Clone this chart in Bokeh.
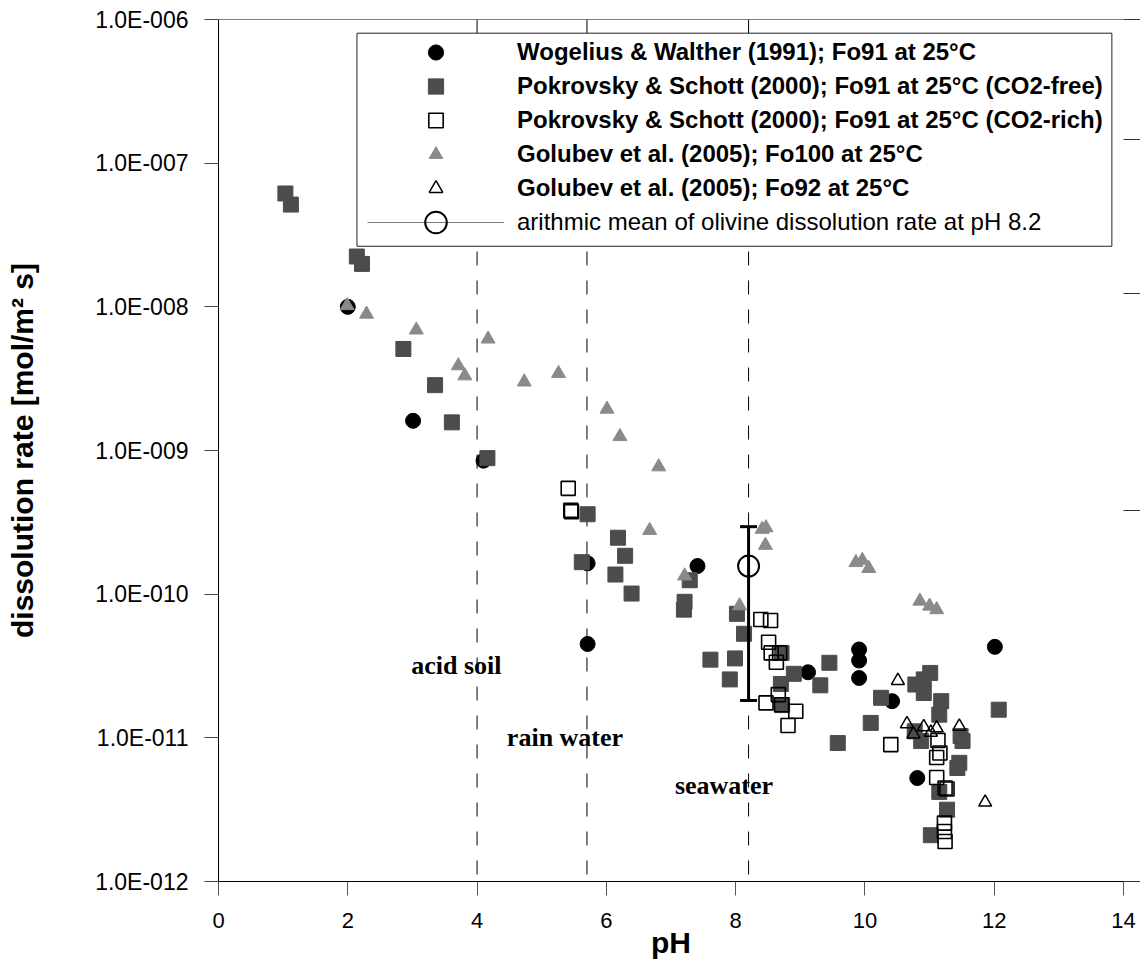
from bokeh.plotting import figure
from bokeh.models import (FixedTicker, LinearAxis, Range1d, Legend, LegendItem, Label,
                          BoxAnnotation, Span, CustomJSTickFormatter)
from bokeh.embed import file_html
from bokeh.resources import INLINE

# ---------------- data ----------------
x_ticks = [0, 2, 4, 6, 8, 10, 12, 14]
y_tick_values = [1e-12, 1e-11, 1e-10, 1e-9, 1e-8, 1e-7, 1e-6]
y_tick_labels = ["1.0E-012", "1.0E-011", "1.0E-010", "1.0E-009", "1.0E-008", "1.0E-007", "1.0E-006"]

ww_ph = [2.00, 3.01, 4.10, 5.71, 5.71, 7.41, 9.12, 9.91, 9.91, 9.91, 12.01, 10.42, 10.81]
ww_rate = [1.0e-8, 1.61e-9, 8.5e-10, 1.64e-10, 4.5e-11, 1.57e-10, 2.86e-11, 4.12e-11,
           3.45e-11, 2.61e-11, 4.3e-11, 1.8e-11, 5.25e-12]

ps_free_ph = [1.035, 1.12, 2.14, 2.22, 2.86, 3.35, 3.61, 4.16, 5.71, 5.62, 6.18, 6.29, 6.14,
              6.39, 7.29, 7.21, 7.20, 8.02, 8.13, 7.61, 7.99, 7.91, 8.71, 8.90, 8.70, 8.72,
              9.45, 9.31, 9.58, 10.25, 10.09, 11.01, 10.91, 10.78, 10.91, 11.18, 11.15, 11.48,
              11.51, 10.87, 10.77, 11.46, 11.43, 11.15, 11.27, 11.02, 12.07]
ps_free_rate = [6.15e-8, 5.15e-8, 2.24e-8, 1.99e-8, 5.09e-9, 2.85e-9, 1.57e-9, 8.85e-10,
                3.6e-10, 1.67e-10, 2.47e-10, 1.85e-10, 1.37e-10, 1.01e-10, 1.25e-10, 8.85e-11,
                7.8e-11, 7.3e-11, 5.3e-11, 3.5e-11, 3.57e-11, 2.55e-11, 3.9e-11, 2.79e-11,
                2.37e-11, 1.69e-11, 3.33e-11, 2.32e-11, 9.2e-12, 1.9e-11, 1.27e-11, 2.83e-11,
                2.55e-11, 2.35e-11, 2.05e-11, 1.8e-11, 1.45e-11, 1.03e-11, 9.5e-12, 9.5e-12,
                1.11e-11, 6.7e-12, 6.17e-12, 4.2e-12, 3.16e-12, 2.1e-12, 1.57e-11]

ps_rich_ph = [5.41, 5.45, 5.46, 8.39, 8.54, 8.51, 8.55, 8.68, 8.63, 8.66, 8.47, 8.71, 8.93,
              8.81, 10.40, 11.13, 11.16, 11.11, 11.11, 11.24, 11.27, 11.23, 11.23, 11.24]
ps_rich_rate = [5.45e-10, 3.84e-10, 3.75e-10, 6.67e-11, 6.56e-11, 4.63e-11, 3.9e-11, 3.9e-11,
                3.36e-11, 2.0e-11, 1.75e-11, 1.7e-11, 1.53e-11, 1.22e-11, 8.97e-12, 9.6e-12,
                7.84e-12, 7.3e-12, 5.3e-12, 4.47e-12, 4.4e-12, 2.55e-12, 2.23e-12, 1.9e-12]

gb100_ph = [1.99, 2.29, 3.06, 3.71, 3.81, 4.17, 4.73, 5.26, 6.01, 6.21, 6.81, 6.67, 7.21,
            8.06, 8.41, 8.47, 8.46, 9.86, 9.96, 10.06, 10.85, 11.00, 11.11]
gb100_rate = [1.02e-8, 8.9e-9, 6.9e-9, 3.89e-9, 3.31e-9, 5.97e-9, 3.0e-9, 3.44e-9, 1.94e-9,
              1.25e-9, 7.7e-10, 2.78e-10, 1.34e-10, 8.3e-11, 2.83e-10, 2.9e-10, 2.19e-10,
              1.66e-10, 1.72e-10, 1.51e-10, 8.95e-11, 8.26e-11, 7.8e-11]

gb92_ph = [10.51, 10.65, 10.91, 11.11, 11.02, 11.46, 10.75, 11.86]
gb92_rate = [2.5e-11, 1.25e-11, 1.19e-11, 1.17e-11, 1.09e-11, 1.2e-11, 1.06e-11, 3.56e-12]

mean_ph = [8.2]
mean_rate = [1.57e-10]
mean_low = [1.82e-11]
mean_high = [2.95e-10]

env_ph = [4.0, 5.7, 8.2]
env_names = ["acid soil", "rain water", "seawater"]
env_label_ph = [3.68, 5.36, 7.82]
env_label_rate = [3.19e-11, 1.0e-11, 4.66e-12]

legend_labels = [
    "Wogelius & Walther (1991); Fo91 at 25°C",
    "Pokrovsky & Schott (2000); Fo91 at 25°C (CO2-free)",
    "Pokrovsky & Schott (2000); Fo91 at 25°C (CO2-rich)",
    "Golubev et al. (2005); Fo100 at 25°C",
    "Golubev et al. (2005); Fo92 at 25°C",
    "arithmic mean of olivine dissolution rate at pH 8.2",
]

x_title = "pH"
y_title = "dissolution rate [mol/m² s]"

x_min, x_max = 0, 14
y_min, y_max = 1e-12, 1e-6

FONT = "Liberation Sans"
W, H = 1140, 966
BL, BR, BT, BB = 218, 16, 19, 85

# ---------------- figure ----------------
p = figure(width=W, height=H, x_range=Range1d(x_min, x_max),
           y_range=Range1d(y_min, y_max), y_axis_type="log",
           output_backend="svg", toolbar_location=None,
           min_border_left=BL, min_border_right=BR, min_border_top=BT, min_border_bottom=BB)
p.outline_line_color = None
p.xgrid.visible = False
p.ygrid.visible = False
p.background_fill_color = "white"
p.border_fill_color = "white"

# x axis
xa = p.xaxis[0]
xa.ticker = FixedTicker(ticks=x_ticks)
xa.major_tick_out = 14
xa.major_tick_in = 0
xa.minor_tick_out = 0
xa.minor_tick_in = 0
xa.major_tick_line_color = "#555555"
xa.axis_line_color = "black"
xa.major_label_text_font = FONT
xa.major_label_text_font_size = "22px"
xa.major_label_text_color = "black"
xa.major_label_standoff = 17
xa.axis_label = x_title
xa.axis_label_text_font = FONT
xa.axis_label_text_font_size = "30px"
xa.axis_label_text_font_style = "bold"
xa.axis_label_text_color = "black"
xa.axis_label_standoff = -5

# y axis
ya = p.yaxis[0]
ya.ticker = FixedTicker(ticks=y_tick_values)
ya.major_label_overrides = dict(zip(y_tick_values, y_tick_labels))
ya.major_tick_out = 14
ya.major_tick_in = 0
ya.minor_tick_out = 0
ya.minor_tick_in = 0
ya.major_tick_line_color = "#444444"
ya.axis_line_color = "black"
ya.major_label_text_font = FONT
ya.major_label_text_font_size = "23px"
ya.major_label_text_color = "black"
ya.major_label_standoff = 16
ya.axis_label = y_title
ya.axis_label_text_font = FONT
ya.axis_label_text_font_size = "30px"
ya.axis_label_text_font_style = "bold"
ya.axis_label_text_color = "black"
ya.axis_label_standoff = 53

# right axis (unlabelled)
p.extra_y_ranges = {"right": Range1d(0, 5)}
ra = LinearAxis(y_range_name="right", ticker=FixedTicker(ticks=[0, 1, 2, 3, 4, 5]),
                formatter=CustomJSTickFormatter(code="return ''"),
                major_tick_out=17, major_tick_in=0, minor_tick_out=0, minor_tick_in=0,
                major_label_standoff=0, axis_line_color="#808080",
                major_tick_line_color="#333333")
p.add_layout(ra, "right")

# top frame line
p.add_layout(Span(location=y_max, dimension="width", line_color="black", line_width=1))

# environment dashed lines
p.segment(x0=env_ph, y0=[y_max] * len(env_ph), x1=env_ph, y1=[y_min] * len(env_ph),
          line_color="black", line_width=1, line_dash="14 15")

for name, lx, ly in zip(env_names, env_label_ph, env_label_rate):
    p.add_layout(Label(x=lx, y=ly, text=name, text_font="Liberation Serif",
                       text_font_style="bold", text_font_size="26px", text_color="black",
                       text_align="center", text_baseline="alphabetic"))

# data series
r_ww = p.scatter(ww_ph, ww_rate, marker="circle", size=15, fill_color="black", line_color="black")
r_free = p.scatter(ps_free_ph, ps_free_rate, marker="square", size=15,
                   fill_color="#4c4c4c", line_color="#4c4c4c")
r_rich = p.scatter(ps_rich_ph, ps_rich_rate, marker="square", size=14,
                   fill_color=None, line_color="black", line_width=1.6)
r_100 = p.scatter(gb100_ph, gb100_rate, marker="triangle", size=14,
                  fill_color="#8a8a8a", line_color="#8a8a8a")
r_92 = p.scatter(gb92_ph, gb92_rate, marker="triangle", size=13,
                 fill_color=None, line_color="black", line_width=1.5)

# mean with error bar
p.segment(x0=mean_ph, y0=mean_low, x1=mean_ph, y1=mean_high, line_color="black", line_width=3)
p.scatter(mean_ph * 2, mean_low + mean_high, marker="dash", size=17,
          line_color="black", line_width=3)
r_mean = p.scatter(mean_ph, mean_rate, marker="circle", size=21, fill_color=None,
                   line_color="black", line_width=2)
# single-point line: invisible in the plot, gives the legend its horizontal line
r_legline = p.line(mean_ph, mean_rate, line_color="#808080", line_width=1)

# legend frame
p.add_layout(BoxAnnotation(left=2.142, right=13.82, bottom=2.64e-8, top=8.03e-7,
                           fill_color="white", fill_alpha=1.0, line_color="#222222",
                           line_width=1, line_alpha=1.0))

# one legend per row so each marker gets its own size
legend_renderers = [[r_ww], [r_free], [r_rich], [r_100], [r_92], [r_legline, r_mean]]
glyph_heights = [38, 38, 36, 34, 34, 54]
frame_bottom = H - BB
for i, (lab, rends, gh) in enumerate(zip(legend_labels, legend_renderers, glyph_heights)):
    cy = 52 + 34 * i
    bottom = cy + gh / 2
    leg = Legend(items=[LegendItem(label=lab, renderers=rends)],
                 location=(149, frame_bottom - bottom), glyph_width=137, glyph_height=gh,
                 label_height=gh, label_standoff=13, spacing=0, padding=0, margin=0,
                 border_line_color=None, background_fill_alpha=0,
                 label_text_font=FONT, label_text_font_size="24px",
                 label_text_font_style="bold" if i < 5 else "normal",
                 label_text_color="black")
    p.add_layout(leg, "center")

open("out.html", "w").write(file_html(p, INLINE))
